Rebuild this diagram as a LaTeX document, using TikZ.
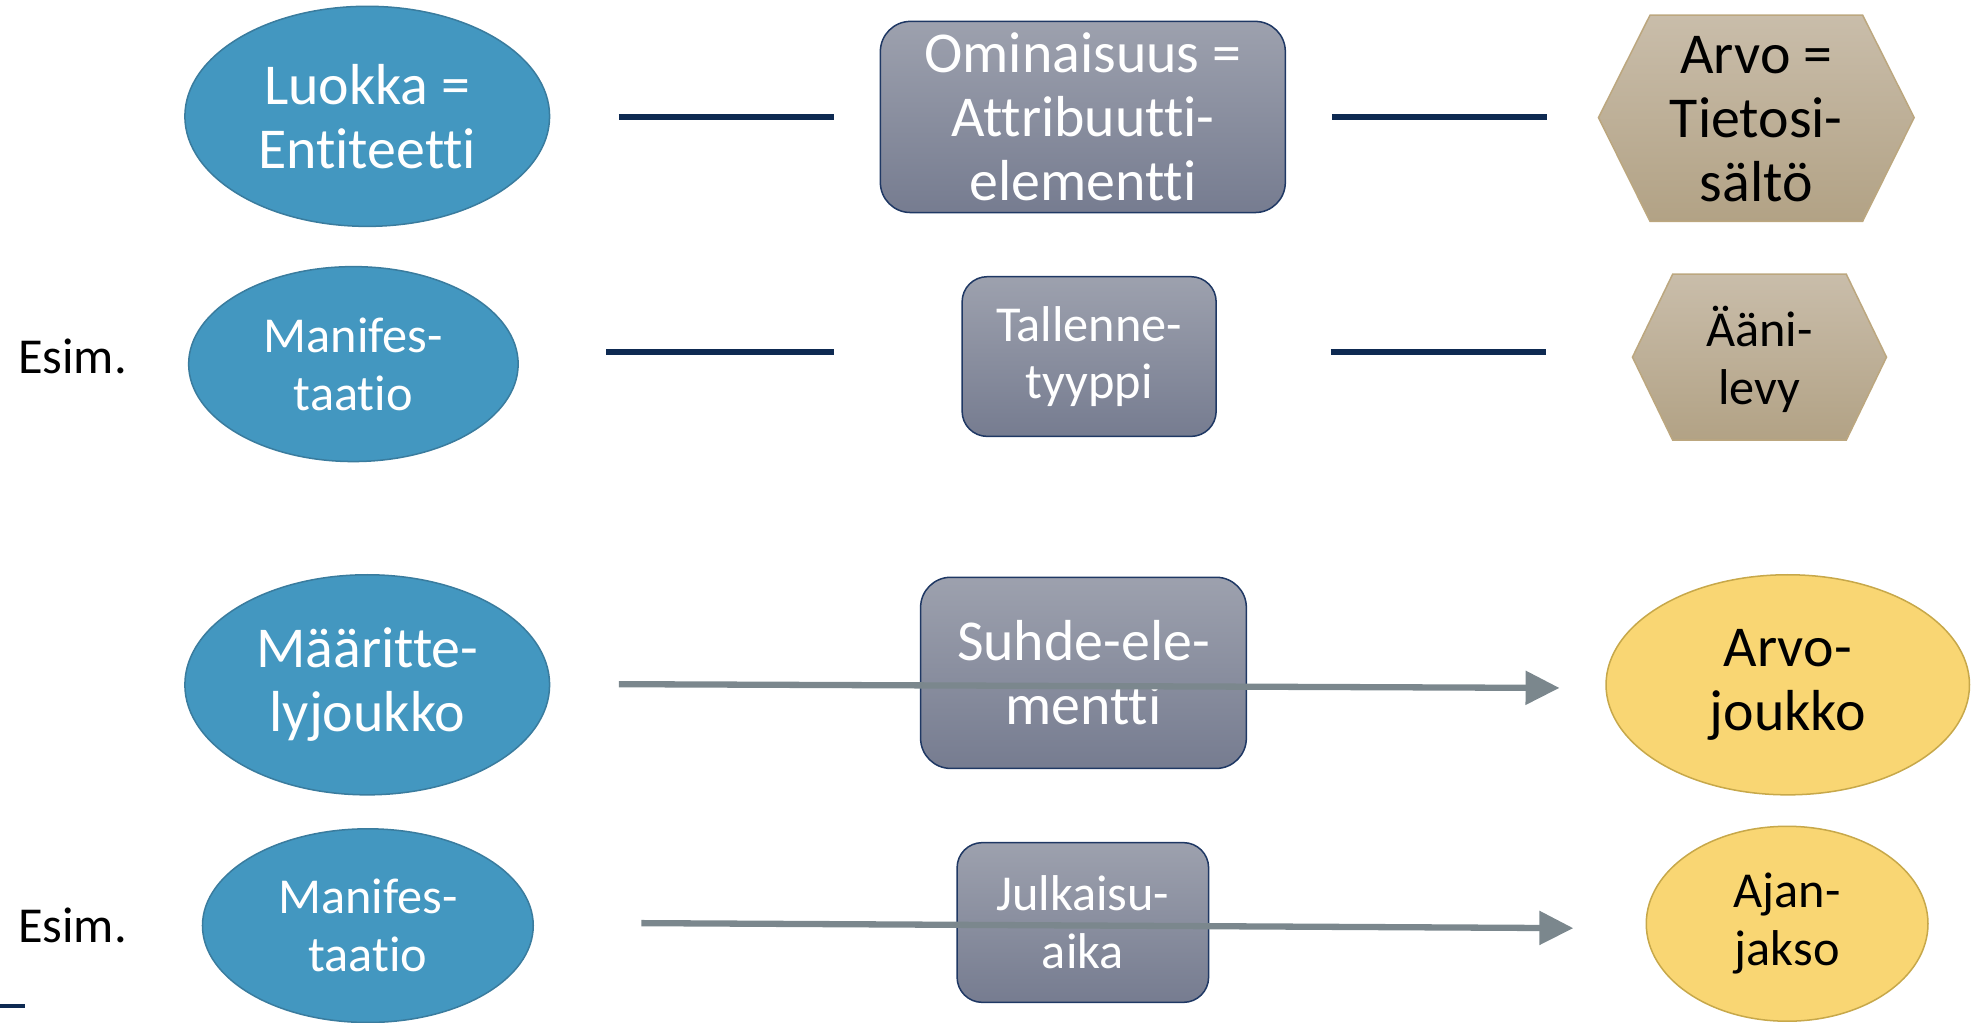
\documentclass[tikz,border=0pt]{standalone}
\usepackage{fontspec}
\setmainfont{Carlito}[Ligatures=NoCommon]
\usetikzlibrary{arrows.meta,shapes.geometric}
\definecolor{ellblue}{HTML}{4397C0}
\definecolor{ellborder}{HTML}{3A7C9E}
\definecolor{recttop}{HTML}{9DA1AE}
\definecolor{rectbot}{HTML}{767C90}
\definecolor{rectborder}{HTML}{1F3864}
\definecolor{hextop}{HTML}{C9BDAA}
\definecolor{hexbot}{HTML}{B2A285}
\definecolor{hexborder}{HTML}{BCA77F}
\definecolor{yel}{HTML}{F9D673}
\definecolor{yelborder}{HTML}{C7A84A}
\definecolor{navy}{HTML}{0E2A52}
\definecolor{arrgray}{HTML}{7B878D}
\begin{document}
\begin{tikzpicture}[x=0.5pt,y=-0.5pt,
  bigtxt/.style={font=\fontsize{23}{25.5}\selectfont},
  smalltxt/.style={font=\fontsize{20}{23}\selectfont},
  ent/.style={ellipse, fill=ellblue, draw=ellborder, line width=0.6pt, text=white, align=center, inner sep=0pt},
  attr/.style={rectangle, rounded corners=12pt, draw=rectborder, line width=0.6pt, top color=recttop, bottom color=rectbot, text=white, align=center, inner sep=0pt},
  hexshape/.style={draw=hexborder, line width=0.6pt, top color=hextop, bottom color=hexbot},
  hextext/.style={text=black, align=center, inner sep=0pt},
  valset/.style={ellipse, fill=yel, draw=yelborder, line width=0.6pt, text=black, align=center, inner sep=0pt},
  link/.style={draw=navy, line width=2.4pt},
  relarrow/.style={draw=arrgray, line width=2.5pt, -{Triangle[length=13.5pt,width=13pt]}},
  esim/.style={text=black, anchor=west, inner sep=0pt, font=\fontsize{20}{23}\selectfont}
]
\useasboundingbox (0,0) rectangle (1568,813);

% Row 1
\node[ent, bigtxt, minimum width=145pt, minimum height=87.5pt] (E1) at (292,92.5) {Luokka =\\Entiteetti};
\node[attr, bigtxt, minimum width=161pt, minimum height=76pt] (R1) at (861,93) {Ominaisuus =\\Attribuutti-\\elementti};
\path[hexshape] (1271,93.5) -- (1312,12) -- (1481,12) -- (1522,93.5) -- (1481,176) -- (1312,176) -- cycle;
\node[hextext, bigtxt] (H1) at (1396.5,95) {Arvo =\\Tietosi-\\sältö};
\coordinate (l1a) at (492,93);
\coordinate (l1b) at (663,93);
\coordinate (l1c) at (1059,93);
\coordinate (l1d) at (1230,93);
\draw[link] (l1a) -- (l1b);
\draw[link] (l1c) -- (l1d);

% Row 2
\node[esim] (S1) at (14,283) {Esim.};
\node[ent, smalltxt, minimum width=131pt, minimum height=77.5pt] (E2) at (281,289.5) {Manifes-\\taatio};
\node[attr, smalltxt, rounded corners=10pt, minimum width=101pt, minimum height=63.5pt] (R2) at (866,283.5) {Tallenne-\\tyyppi};
\path[hexshape] (1298,284) -- (1330,218) -- (1468,218) -- (1500,284) -- (1468,350) -- (1330,350) -- cycle;
\node[hextext, smalltxt] (H2) at (1399,286) {Ääni-\\levy};
\coordinate (l2a) at (482,280);
\coordinate (l2b) at (663,280);
\coordinate (l2c) at (1058,280);
\coordinate (l2d) at (1229,280);
\draw[link] (l2a) -- (l2b);
\draw[link] (l2c) -- (l2d);

% Row 3
\node[ent, bigtxt, minimum width=145pt, minimum height=87.5pt] (E3) at (292,544.5) {Määritte-\\lyjoukko};
\node[attr, bigtxt, minimum width=129.5pt, minimum height=76pt] (R3) at (861.5,535) {Suhde-ele-\\mentti};
\node[valset, bigtxt, minimum width=144.5pt, minimum height=87.5pt] (E4) at (1421.5,544.5) {Arvo-\\joukko};
\coordinate (a3s) at (492,544);
\coordinate (a3e) at (1240,547);
\draw[relarrow] (a3s) -- (a3e);

% Row 4
\node[esim] (S2) at (14,736) {Esim.};
\node[ent, smalltxt, minimum width=131.5pt, minimum height=77pt] (E5) at (292.5,736) {Manifes-\\taatio};
\node[attr, smalltxt, rounded corners=10pt, minimum width=100pt, minimum height=63.5pt] (R4) at (861,733.5) {Julkaisu-\\aika};
\node[valset, smalltxt, minimum width=112pt, minimum height=77.5pt] (E6) at (1421,734.5) {Ajan-\\jakso};
\coordinate (a4s) at (510,734);
\coordinate (a4e) at (1251,738);
\draw[relarrow] (a4s) -- (a4e);

% small fragment bottom left
\coordinate (f1) at (0,800);
\coordinate (f2) at (20,800);
\draw[draw=navy, line width=1.5pt] (f1) -- (f2);
\end{tikzpicture}
\end{document}
